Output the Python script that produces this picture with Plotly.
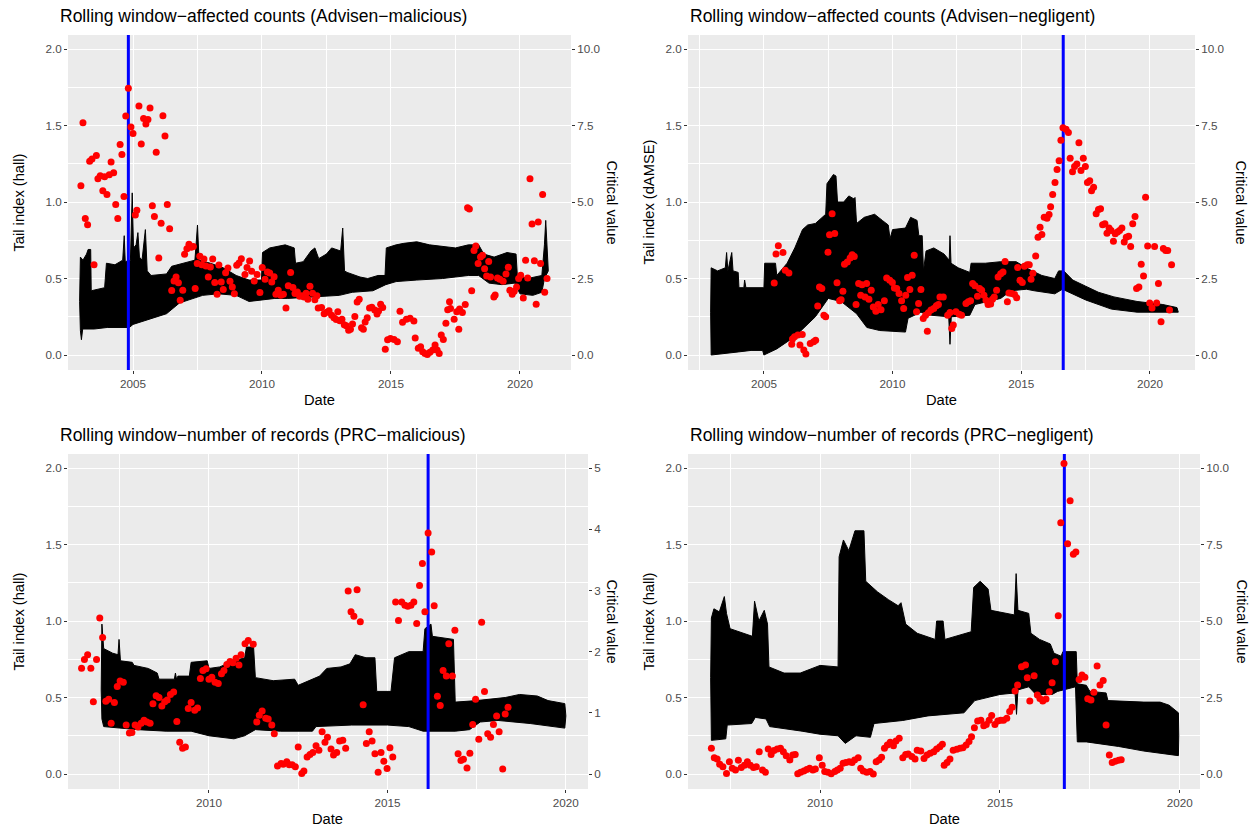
import plotly.graph_objects as go

W, H = 1257, 829
FONT = "Liberation Sans, Arial, Helvetica, sans-serif"

# ---------------------------------------------------------------------------
# Data: dates are decimal years; band = envelope (upper / lower) of the rolling
# tail-index estimate, points = critical values, break = detected change date
# ---------------------------------------------------------------------------

# Advisen - malicious (affected counts), Hill estimator
TL_UPPER = [(2002.93, 0.35), (2002.96, 0.64), (2003.06, 0.62), (2003.20, 0.66), (2003.26, 0.69),
            (2003.36, 0.69), (2003.38, 0.42), (2003.60, 0.43), (2003.90, 0.44), (2003.97, 0.60),
            (2004.30, 0.59), (2004.60, 0.62), (2004.66, 0.78), (2004.70, 0.61), (2004.90, 0.62),
            (2004.97, 1.06), (2005.02, 0.70), (2005.12, 0.72), (2005.19, 0.80), (2005.25, 0.64),
            (2005.35, 0.62), (2005.48, 0.82), (2005.55, 0.55), (2005.70, 0.52), (2006.30, 0.53),
            (2006.50, 0.58), (2007.00, 0.60), (2007.40, 0.62), (2007.50, 0.85), (2007.56, 0.62),
            (2008.00, 0.60), (2008.50, 0.57), (2009.00, 0.52), (2009.50, 0.49), (2009.98, 0.49),
            (2010.02, 0.67), (2010.30, 0.70), (2010.60, 0.71), (2010.90, 0.72), (2011.25, 0.70),
            (2011.30, 0.60), (2011.60, 0.61), (2011.90, 0.68), (2012.05, 0.70), (2012.20, 0.63),
            (2012.50, 0.66), (2012.70, 0.70), (2013.05, 0.68), (2013.13, 0.83), (2013.20, 0.55),
            (2013.30, 0.54), (2013.80, 0.51), (2014.10, 0.50), (2014.50, 0.52), (2014.77, 0.52),
            (2014.82, 0.70), (2015.20, 0.72), (2015.50, 0.73), (2016.00, 0.74), (2016.50, 0.72),
            (2017.00, 0.71), (2017.50, 0.70), (2018.00, 0.72), (2018.40, 0.72), (2018.60, 0.66),
            (2019.00, 0.64), (2019.50, 0.67), (2019.85, 0.66), (2019.90, 0.52), (2020.30, 0.50),
            (2020.85, 0.52), (2020.95, 0.72), (2021.00, 0.88), (2021.05, 0.70), (2021.10, 0.55)]
TL_LOWER = [(2002.93, 0.35), (2002.96, 0.16), (2003.00, 0.10), (2003.05, 0.17), (2003.50, 0.17),
            (2004.00, 0.18), (2004.86, 0.18), (2005.00, 0.20), (2005.60, 0.23), (2006.30, 0.27),
            (2006.80, 0.34), (2007.30, 0.37), (2007.70, 0.39), (2008.30, 0.40), (2009.00, 0.39),
            (2009.50, 0.35), (2010.00, 0.36), (2010.50, 0.37), (2011.00, 0.37), (2012.00, 0.38),
            (2013.00, 0.39), (2013.50, 0.41), (2014.30, 0.42), (2014.80, 0.46), (2015.20, 0.48),
            (2016.00, 0.49), (2017.00, 0.50), (2018.00, 0.52), (2018.40, 0.52), (2018.80, 0.47),
            (2019.30, 0.46), (2019.80, 0.47), (2020.00, 0.40), (2020.50, 0.39), (2020.85, 0.41),
            (2020.95, 0.50), (2021.10, 0.55)]
TL_POINTS = [(2002.98, 5.53), (2003.06, 7.59), (2003.15, 4.46), (2003.24, 4.26), (2003.32, 6.33),
             (2003.41, 6.41), (2003.49, 2.95), (2003.58, 6.52), (2003.64, 5.76), (2003.73, 5.86),
             (2003.83, 5.37), (2003.90, 5.83), (2003.99, 5.25), (2004.08, 5.89), (2004.15, 6.31),
             (2004.25, 5.96), (2004.33, 4.92), (2004.41, 4.46), (2004.50, 6.88), (2004.57, 6.55),
             (2004.65, 5.18), (2004.72, 7.81), (2004.82, 8.72), (2004.92, 7.45), (2005.00, 7.24),
             (2005.09, 4.58), (2005.15, 4.73), (2005.23, 8.14), (2005.32, 6.90), (2005.41, 7.73),
             (2005.50, 7.55), (2005.58, 7.70), (2005.66, 8.07), (2005.75, 4.88), (2005.83, 4.53),
             (2005.90, 6.63), (2006.00, 3.17), (2006.09, 4.31), (2006.16, 7.82), (2006.24, 7.16),
             (2006.33, 4.92), (2006.42, 4.13), (2006.50, 2.11), (2006.59, 2.42), (2006.67, 2.55),
             (2006.76, 2.36), (2006.83, 1.79), (2006.93, 2.12), (2007.00, 3.29), (2007.09, 3.47),
             (2007.17, 3.62), (2007.26, 3.52), (2007.34, 3.55), (2007.41, 2.17), (2007.49, 2.99),
             (2007.59, 3.23), (2007.67, 2.95), (2007.75, 3.14), (2007.83, 2.91), (2007.92, 2.55),
             (2008.00, 2.88), (2008.09, 3.14), (2008.17, 2.37), (2008.26, 1.99), (2008.33, 2.94),
             (2008.42, 2.39), (2008.50, 2.14), (2008.59, 2.69), (2008.68, 2.84), (2008.76, 2.41),
             (2008.85, 2.22), (2008.93, 2.00), (2009.02, 2.93), (2009.11, 3.01), (2009.20, 3.15),
             (2009.34, 2.63), (2009.42, 2.86), (2009.52, 3.07), (2009.60, 2.74), (2009.70, 2.42),
             (2009.81, 2.63), (2009.92, 2.04), (2010.01, 2.86), (2010.12, 2.48), (2010.21, 2.71),
             (2010.30, 2.68), (2010.38, 2.39), (2010.47, 2.56), (2010.54, 1.99), (2010.63, 2.12),
             (2010.73, 1.95), (2010.83, 1.99), (2010.93, 1.54), (2011.02, 2.26), (2011.11, 2.70),
             (2011.20, 2.21), (2011.28, 2.01), (2011.37, 2.06), (2011.46, 1.92), (2011.54, 1.94),
             (2011.63, 1.90), (2011.71, 2.02), (2011.78, 1.82), (2011.86, 2.25), (2011.96, 2.02),
             (2012.05, 1.81), (2012.13, 1.94), (2012.18, 1.54), (2012.31, 1.55), (2012.41, 1.35),
             (2012.51, 1.40), (2012.60, 1.45), (2012.70, 1.30), (2012.79, 1.22), (2012.88, 1.16),
             (2012.94, 1.41), (2013.02, 1.12), (2013.10, 1.17), (2013.19, 0.99), (2013.27, 0.96),
             (2013.36, 0.81), (2013.43, 0.84), (2013.51, 1.01), (2013.60, 1.26), (2013.69, 1.73),
             (2013.77, 1.82), (2013.86, 0.89), (2013.93, 0.84), (2014.00, 1.08), (2014.08, 1.22),
             (2014.17, 1.54), (2014.26, 1.56), (2014.37, 1.47), (2014.46, 1.34), (2014.52, 1.44),
             (2014.60, 1.66), (2014.68, 1.55), (2014.78, 0.19), (2014.87, 0.50), (2014.98, 0.54),
             (2015.12, 0.51), (2015.25, 0.43), (2015.35, 1.43), (2015.45, 1.07), (2015.60, 1.17),
             (2015.74, 1.20), (2015.89, 1.11), (2015.94, 0.56), (2016.06, 0.22), (2016.15, 0.27),
             (2016.23, 0.11), (2016.32, 0.05), (2016.41, 0.02), (2016.51, 0.09), (2016.62, 0.16),
             (2016.71, 0.33), (2016.79, 0.16), (2016.87, 0.05), (2016.95, 0.65), (2017.03, 0.51),
             (2017.13, 1.04), (2017.20, 1.48), (2017.27, 1.74), (2017.31, 1.52), (2017.45, 1.17),
             (2017.55, 1.41), (2017.63, 0.84), (2017.66, 1.50), (2017.77, 1.39), (2017.88, 1.65),
             (2017.97, 4.81), (2018.04, 4.77), (2018.13, 2.10), (2018.22, 3.42), (2018.29, 3.56),
             (2018.38, 2.99), (2018.47, 3.20), (2018.55, 3.26), (2018.63, 2.82), (2018.71, 2.58),
             (2018.79, 3.06), (2018.86, 2.55), (2018.99, 1.90), (2019.04, 1.96), (2019.13, 2.52),
             (2019.22, 2.48), (2019.35, 2.41), (2019.46, 2.65), (2019.55, 2.87), (2019.61, 2.12),
             (2019.70, 1.99), (2019.78, 2.08), (2019.87, 2.22), (2019.95, 2.50), (2020.03, 2.61),
             (2020.13, 1.86), (2020.22, 3.10), (2020.30, 2.52), (2020.39, 5.76), (2020.47, 4.28),
             (2020.56, 3.08), (2020.63, 1.66), (2020.71, 4.35), (2020.80, 2.99), (2020.88, 5.25),
             (2020.96, 2.05), (2021.05, 2.50)]
TL_BREAK = 2004.82

# Advisen - negligent (affected counts), dAMSE estimator
TR_UPPER = [(2002.93, 0.28), (2002.95, 0.57), (2003.20, 0.55), (2003.50, 0.57), (2003.55, 0.67),
            (2003.60, 0.55), (2003.75, 0.67), (2003.80, 0.55), (2004.00, 0.54), (2004.03, 0.44),
            (2004.22, 0.44), (2004.25, 0.49), (2004.30, 0.44), (2005.00, 0.44), (2005.03, 0.60),
            (2005.45, 0.60), (2005.50, 0.52), (2005.90, 0.60), (2006.20, 0.70), (2006.50, 0.82),
            (2006.70, 0.85), (2007.00, 0.86), (2007.40, 0.92), (2007.45, 1.12), (2007.70, 1.18),
            (2007.80, 1.17), (2007.86, 1.00), (2008.10, 1.00), (2008.30, 1.04), (2008.50, 1.02),
            (2008.54, 1.03), (2008.60, 0.86), (2008.90, 0.90), (2009.30, 0.92), (2009.60, 0.88),
            (2009.83, 0.85), (2009.90, 0.76), (2010.00, 0.82), (2010.50, 0.83), (2010.70, 0.90),
            (2010.95, 0.88), (2011.02, 0.78), (2011.15, 0.78), (2011.20, 0.55), (2011.30, 0.68),
            (2011.60, 0.70), (2012.00, 0.66), (2012.20, 0.62), (2012.23, 0.78), (2012.27, 0.60),
            (2012.55, 0.57), (2013.00, 0.54), (2013.05, 0.60), (2013.60, 0.60), (2014.20, 0.61),
            (2014.80, 0.61), (2015.30, 0.56), (2015.80, 0.52), (2016.30, 0.50), (2016.45, 0.55),
            (2016.65, 0.55), (2017.00, 0.49), (2017.50, 0.45), (2018.00, 0.41), (2018.60, 0.38),
            (2019.50, 0.35), (2020.50, 0.33), (2021.05, 0.31), (2021.10, 0.28)]
TR_LOWER = [(2002.93, 0.28), (2002.95, 0.00), (2003.50, 0.01), (2004.00, 0.02), (2004.50, 0.03),
            (2004.95, 0.03), (2005.00, 0.00), (2005.50, 0.04), (2006.20, 0.12), (2007.00, 0.25),
            (2007.50, 0.37), (2008.00, 0.35), (2008.60, 0.27), (2009.00, 0.18), (2009.50, 0.16),
            (2010.50, 0.15), (2010.60, 0.24), (2011.10, 0.28), (2011.50, 0.26), (2012.18, 0.25),
            (2012.23, 0.07), (2012.28, 0.25), (2013.00, 0.26), (2013.20, 0.33), (2014.20, 0.37),
            (2014.60, 0.42), (2015.20, 0.43), (2015.50, 0.42), (2016.30, 0.40), (2016.60, 0.43),
            (2017.50, 0.36), (2018.50, 0.30), (2019.50, 0.28), (2021.10, 0.28)]
TR_POINTS = [(2005.40, 2.35), (2005.47, 3.30), (2005.56, 3.57), (2005.74, 3.35), (2005.83, 2.77),
             (2005.97, 2.68), (2006.08, 0.35), (2006.11, 0.52), (2006.19, 0.60), (2006.32, 0.65),
             (2006.40, 0.33), (2006.49, 0.67), (2006.55, 0.16), (2006.63, 0.03), (2006.80, 0.38),
             (2006.93, 0.43), (2007.01, 0.48), (2007.09, 1.60), (2007.16, 2.22), (2007.25, 2.17),
             (2007.33, 1.30), (2007.40, 1.25), (2007.49, 3.36), (2007.55, 3.93), (2007.65, 4.62),
             (2007.75, 3.97), (2007.84, 2.36), (2007.94, 1.77), (2008.00, 1.81), (2008.07, 2.08),
             (2008.13, 2.97), (2008.24, 3.04), (2008.35, 3.17), (2008.43, 3.28), (2008.51, 3.22),
             (2008.58, 1.65), (2008.68, 2.34), (2008.76, 1.95), (2008.81, 2.30), (2008.93, 1.90),
             (2008.99, 2.34), (2009.08, 1.82), (2009.17, 2.12), (2009.25, 1.57), (2009.35, 1.43),
             (2009.44, 1.65), (2009.55, 1.48), (2009.68, 1.77), (2009.77, 2.52), (2009.89, 2.44),
             (2009.99, 2.37), (2010.07, 2.19), (2010.16, 2.17), (2010.25, 2.01), (2010.35, 1.77),
             (2010.43, 1.52), (2010.51, 1.95), (2010.58, 2.53), (2010.67, 2.14), (2010.76, 2.61),
             (2010.84, 3.26), (2010.93, 1.41), (2011.01, 1.68), (2011.10, 2.14), (2011.19, 1.19),
             (2011.28, 1.30), (2011.35, 0.78), (2011.39, 1.38), (2011.49, 1.47), (2011.60, 1.52),
             (2011.70, 1.61), (2011.78, 1.65), (2011.84, 1.90), (2011.97, 1.90), (2012.14, 1.30),
             (2012.23, 1.39), (2012.30, 0.87), (2012.36, 0.98), (2012.46, 1.41), (2012.59, 1.33),
             (2012.68, 1.30), (2012.85, 1.68), (2012.94, 1.74), (2013.03, 1.77), (2013.11, 2.34),
             (2013.20, 2.26), (2013.30, 1.92), (2013.38, 2.17), (2013.46, 2.12), (2013.55, 1.95),
             (2013.63, 1.79), (2013.71, 1.65), (2013.81, 1.67), (2013.88, 1.82), (2013.95, 1.90),
             (2014.04, 2.12), (2014.10, 2.55), (2014.20, 2.66), (2014.29, 2.71), (2014.37, 3.06),
             (2014.46, 1.74), (2014.52, 2.03), (2014.63, 2.01), (2014.74, 1.98), (2014.82, 1.87),
             (2014.86, 2.86), (2014.95, 2.44), (2015.04, 2.37), (2015.12, 2.90), (2015.23, 2.95),
             (2015.31, 2.95), (2015.38, 2.48), (2015.45, 2.67), (2015.56, 3.24), (2015.65, 3.85),
             (2015.73, 4.18), (2015.80, 3.94), (2015.89, 4.50), (2016.00, 4.47), (2016.08, 4.59),
             (2016.14, 4.85), (2016.22, 5.25), (2016.31, 5.64), (2016.39, 6.06), (2016.47, 6.35),
             (2016.54, 7.02), (2016.62, 7.43), (2016.74, 7.38), (2016.83, 7.27), (2016.90, 6.43),
             (2016.99, 5.99), (2017.07, 6.16), (2017.16, 6.24), (2017.24, 6.94), (2017.32, 6.03),
             (2017.41, 6.43), (2017.49, 6.16), (2017.57, 5.64), (2017.66, 5.70), (2017.73, 5.37),
             (2017.81, 5.48), (2017.91, 4.62), (2018.00, 4.76), (2018.08, 4.78), (2018.16, 4.26),
             (2018.25, 4.29), (2018.33, 3.98), (2018.41, 4.15), (2018.49, 4.07), (2018.58, 3.72),
             (2018.65, 3.96), (2018.74, 4.02), (2018.82, 4.07), (2018.91, 4.15), (2019.00, 3.69),
             (2019.08, 3.85), (2019.17, 3.88), (2019.25, 3.55), (2019.33, 4.29), (2019.42, 4.53),
             (2019.48, 2.17), (2019.57, 2.22), (2019.66, 2.97), (2019.75, 2.58), (2019.83, 5.16),
             (2019.91, 3.56), (2019.99, 1.70), (2020.08, 1.54), (2020.18, 3.55), (2020.26, 1.70),
             (2020.33, 2.34), (2020.43, 1.09), (2020.52, 3.48), (2020.61, 3.42), (2020.69, 3.42),
             (2020.76, 1.47), (2020.84, 2.95)]
TR_BREAK = 2016.63

# PRC - malicious (number of records), Hill estimator
BL_UPPER = [(2006.98, 0.55), (2007.00, 0.98), (2007.05, 0.82), (2007.30, 0.79), (2007.45, 0.78),
            (2007.48, 0.88), (2007.52, 0.74), (2007.85, 0.73), (2007.90, 0.71), (2008.30, 0.69),
            (2008.55, 0.66), (2008.60, 0.62), (2009.03, 0.62), (2009.06, 0.66), (2009.09, 0.62),
            (2009.13, 0.64), (2009.45, 0.64), (2009.50, 0.73), (2009.95, 0.74), (2010.00, 0.69),
            (2010.30, 0.70), (2010.70, 0.74), (2011.00, 0.76), (2011.05, 0.83), (2011.25, 0.83),
            (2011.30, 0.63), (2011.80, 0.61), (2012.40, 0.62), (2012.50, 0.58), (2012.90, 0.62),
            (2013.10, 0.64), (2013.30, 0.69), (2013.70, 0.70), (2013.95, 0.72), (2014.10, 0.78),
            (2014.40, 0.76), (2014.65, 0.76), (2014.70, 0.54), (2015.10, 0.54), (2015.20, 0.76),
            (2015.60, 0.80), (2016.00, 0.80), (2016.05, 0.95), (2016.22, 0.98), (2016.26, 0.90),
            (2016.85, 0.88), (2016.90, 0.47), (2017.50, 0.48), (2018.30, 0.50), (2018.70, 0.52),
            (2019.20, 0.51), (2019.50, 0.48), (2019.97, 0.46), (2020.00, 0.38)]
BL_LOWER = [(2006.98, 0.55), (2007.00, 0.36), (2007.05, 0.31), (2007.50, 0.30), (2008.00, 0.29),
            (2008.80, 0.28), (2009.50, 0.28), (2010.00, 0.25), (2010.70, 0.23), (2011.00, 0.25),
            (2011.30, 0.29), (2012.00, 0.28), (2012.90, 0.28), (2013.00, 0.31), (2014.00, 0.32),
            (2015.00, 0.32), (2015.60, 0.31), (2016.00, 0.28), (2016.90, 0.28), (2017.30, 0.29),
            (2017.60, 0.34), (2018.10, 0.35), (2019.00, 0.33), (2019.97, 0.30), (2020.00, 0.38)]
BL_POINTS = [(2006.43, 1.73), (2006.51, 1.87), (2006.60, 1.95), (2006.69, 1.73), (2006.76, 1.18),
             (2006.85, 1.87), (2006.94, 2.55), (2007.02, 2.23), (2007.11, 1.19), (2007.19, 1.22),
             (2007.26, 0.83), (2007.35, 1.17), (2007.43, 1.43), (2007.51, 1.52), (2007.60, 1.50),
             (2007.68, 0.80), (2007.77, 0.67), (2007.84, 0.68), (2007.93, 0.80), (2008.01, 0.77),
             (2008.10, 0.83), (2008.18, 0.88), (2008.26, 0.85), (2008.35, 0.83), (2008.43, 1.15),
             (2008.52, 1.28), (2008.60, 1.25), (2008.68, 1.11), (2008.76, 1.18), (2008.83, 1.21),
             (2008.92, 1.30), (2009.01, 1.34), (2009.10, 0.86), (2009.18, 0.52), (2009.26, 0.42),
             (2009.34, 0.44), (2009.42, 1.07), (2009.50, 1.17), (2009.60, 1.04), (2009.68, 1.08),
             (2009.76, 1.56), (2009.83, 1.69), (2009.92, 1.72), (2010.00, 1.55), (2010.08, 1.58),
             (2010.17, 1.50), (2010.26, 1.48), (2010.35, 1.64), (2010.42, 1.69), (2010.50, 1.79),
             (2010.59, 1.84), (2010.67, 1.82), (2010.76, 1.89), (2010.84, 1.78), (2010.90, 1.95),
             (2011.01, 2.13), (2011.10, 2.18), (2011.24, 2.12), (2011.34, 0.85), (2011.41, 0.96),
             (2011.49, 1.03), (2011.59, 0.91), (2011.66, 0.90), (2011.76, 0.80), (2011.83, 0.66),
             (2011.92, 0.13), (2012.02, 0.17), (2012.08, 0.16), (2012.18, 0.20), (2012.25, 0.15),
             (2012.33, 0.15), (2012.42, 0.12), (2012.50, 0.44), (2012.60, 0.01), (2012.66, 0.05),
             (2012.75, 0.28), (2012.83, 0.32), (2012.91, 0.35), (2013.00, 0.46), (2013.08, 0.39),
             (2013.17, 0.69), (2013.25, 0.52), (2013.32, 0.60), (2013.42, 0.41), (2013.49, 0.31),
             (2013.58, 0.35), (2013.66, 0.54), (2013.75, 0.55), (2013.83, 0.42), (2013.90, 2.99),
             (2013.98, 2.65), (2014.06, 2.58), (2014.15, 3.01), (2014.24, 2.49), (2014.32, 1.13),
             (2014.41, 0.50), (2014.49, 0.69), (2014.57, 0.54), (2014.65, 0.33), (2014.74, 0.03),
             (2014.82, 0.35), (2014.90, 0.21), (2014.99, 0.09), (2015.07, 0.43), (2015.15, 0.28),
             (2015.23, 2.81), (2015.31, 2.51), (2015.40, 2.81), (2015.49, 2.76), (2015.57, 2.74),
             (2015.66, 2.76), (2015.74, 2.81), (2015.82, 2.46), (2015.90, 3.08), (2015.98, 3.44),
             (2016.05, 2.65), (2016.14, 3.94), (2016.24, 3.63), (2016.31, 2.75), (2016.40, 1.27),
             (2016.48, 1.12), (2016.56, 1.69), (2016.65, 1.60), (2016.72, 2.13), (2016.82, 1.60),
             (2016.89, 2.35), (2016.98, 0.33), (2017.06, 0.22), (2017.13, 0.24), (2017.23, 0.10),
             (2017.31, 0.34), (2017.39, 0.81), (2017.47, 1.22), (2017.56, 0.57), (2017.64, 2.48),
             (2017.72, 1.35), (2017.81, 0.66), (2017.89, 0.60), (2017.97, 0.81), (2018.06, 0.95),
             (2018.13, 0.69), (2018.23, 0.08), (2018.30, 0.98), (2018.38, 1.09)]
BL_BREAK = 2016.14

# PRC - negligent (number of records), Hill estimator
BR_UPPER = [(2006.96, 0.63), (2006.98, 1.02), (2007.05, 1.08), (2007.20, 1.06), (2007.34, 1.16),
            (2007.40, 1.05), (2007.50, 0.95), (2008.00, 0.91), (2008.12, 0.90), (2008.18, 1.13),
            (2008.30, 1.00), (2008.45, 1.07), (2008.54, 0.98), (2008.58, 0.70), (2009.00, 0.66),
            (2009.45, 0.66), (2010.00, 0.71), (2010.50, 0.70), (2010.53, 1.42), (2010.65, 1.53),
            (2010.80, 1.46), (2010.97, 1.59), (2011.22, 1.59), (2011.27, 1.26), (2011.60, 1.19),
            (2011.90, 1.14), (2012.17, 1.10), (2012.25, 1.12), (2012.38, 0.98), (2012.70, 0.92),
            (2013.20, 0.88), (2013.24, 1.00), (2013.42, 1.00), (2013.47, 0.88), (2014.20, 0.93),
            (2014.27, 1.22), (2014.45, 1.26), (2014.67, 1.21), (2014.75, 1.07), (2015.40, 1.04),
            (2015.45, 1.31), (2015.50, 1.07), (2015.80, 1.05), (2015.86, 0.92), (2016.10, 0.88),
            (2016.40, 0.85), (2016.50, 0.79), (2016.70, 0.77), (2016.75, 0.80), (2017.12, 0.80),
            (2017.15, 0.59), (2017.40, 0.58), (2017.50, 0.54), (2017.95, 0.53), (2018.00, 0.48),
            (2019.00, 0.47), (2019.45, 0.47), (2019.70, 0.45), (2019.96, 0.40), (2019.97, 0.25)]
BR_LOWER = [(2006.96, 0.63), (2006.98, 0.22), (2007.38, 0.23), (2007.42, 0.32), (2008.10, 0.33),
            (2008.20, 0.37), (2008.50, 0.36), (2008.60, 0.31), (2009.50, 0.28), (2010.00, 0.26),
            (2010.50, 0.25), (2010.70, 0.20), (2011.00, 0.25), (2011.40, 0.24), (2011.50, 0.33),
            (2012.30, 0.35), (2013.00, 0.38), (2014.00, 0.40), (2014.30, 0.48), (2015.00, 0.52),
            (2015.42, 0.53), (2015.46, 0.39), (2015.50, 0.55), (2015.80, 0.57), (2016.00, 0.52),
            (2016.45, 0.52), (2016.60, 0.54), (2017.10, 0.57), (2017.15, 0.21), (2017.40, 0.21),
            (2018.30, 0.18), (2019.00, 0.15), (2019.96, 0.12), (2019.97, 0.25)]
BR_POINTS = [(2006.98, 0.84), (2007.06, 0.53), (2007.14, 0.49), (2007.21, 0.32), (2007.30, 0.24),
             (2007.40, 0.02), (2007.48, 0.40), (2007.56, 0.19), (2007.65, 0.13), (2007.73, 0.45),
             (2007.81, 0.21), (2007.90, 0.29), (2007.98, 0.40), (2008.06, 0.29), (2008.15, 0.21),
             (2008.23, 0.24), (2008.31, 0.73), (2008.40, 0.13), (2008.48, 0.06), (2008.56, 0.82),
             (2008.64, 0.64), (2008.72, 0.77), (2008.81, 0.82), (2008.90, 0.84), (2008.98, 0.73),
             (2009.06, 0.60), (2009.16, 0.46), (2009.24, 0.62), (2009.31, 0.64), (2009.38, 0.01),
             (2009.46, 0.06), (2009.55, 0.10), (2009.63, 0.15), (2009.71, 0.19), (2009.80, 0.13),
             (2009.87, 0.16), (2009.98, 0.53), (2010.06, 0.29), (2010.13, 0.08), (2010.22, 0.06),
             (2010.31, 0.01), (2010.41, 0.08), (2010.48, 0.13), (2010.56, 0.19), (2010.64, 0.35),
             (2010.72, 0.38), (2010.81, 0.40), (2010.89, 0.38), (2010.96, 0.46), (2011.06, 0.53),
             (2011.13, 0.19), (2011.20, 0.10), (2011.30, 0.06), (2011.39, 0.08), (2011.48, 0.00),
             (2011.56, 0.40), (2011.64, 0.46), (2011.71, 0.55), (2011.79, 0.84), (2011.87, 0.95),
             (2011.95, 1.04), (2012.04, 0.92), (2012.11, 1.08), (2012.20, 1.17), (2012.30, 0.53),
             (2012.38, 0.64), (2012.45, 0.65), (2012.55, 0.57), (2012.64, 0.49), (2012.70, 0.78),
             (2012.80, 0.75), (2012.89, 0.51), (2012.97, 0.62), (2013.06, 0.68), (2013.16, 0.73),
             (2013.24, 0.82), (2013.33, 0.89), (2013.40, 0.97), (2013.45, 0.29), (2013.53, 0.38),
             (2013.61, 0.49), (2013.70, 0.78), (2013.80, 0.81), (2013.89, 0.84), (2013.97, 0.86),
             (2014.06, 0.95), (2014.14, 1.06), (2014.21, 1.22), (2014.29, 1.51), (2014.38, 1.73),
             (2014.47, 1.76), (2014.55, 1.58), (2014.62, 1.62), (2014.70, 1.76), (2014.77, 1.91),
             (2014.86, 1.62), (2014.94, 1.73), (2015.02, 1.76), (2015.10, 1.76), (2015.19, 1.82),
             (2015.27, 2.04), (2015.34, 2.18), (2015.42, 2.71), (2015.49, 2.91), (2015.60, 3.51),
             (2015.71, 3.56), (2015.76, 3.15), (2015.83, 2.39), (2015.95, 3.21), (2016.04, 2.58),
             (2016.11, 2.47), (2016.19, 2.39), (2016.28, 2.45), (2016.37, 2.69), (2016.45, 2.98),
             (2016.54, 3.67), (2016.62, 5.17), (2016.69, 8.21), (2016.78, 10.15), (2016.88, 7.53),
             (2016.95, 8.93), (2017.04, 7.18), (2017.11, 7.26), (2017.20, 3.09), (2017.28, 3.24),
             (2017.36, 3.16), (2017.44, 2.46), (2017.53, 2.42), (2017.61, 2.67), (2017.70, 3.53),
             (2017.78, 2.91), (2017.87, 3.06), (2017.95, 1.60), (2018.04, 0.62), (2018.12, 0.38),
             (2018.21, 0.42), (2018.30, 0.45), (2018.37, 0.47)]
BR_BREAK = 2016.79

TITLES = ["Rolling window\u2212affected counts (Advisen\u2212malicious)",
          "Rolling window\u2212affected counts (Advisen\u2212negligent)",
          "Rolling window\u2212number of records (PRC\u2212malicious)",
          "Rolling window\u2212number of records (PRC\u2212negligent)"]
LEFT_LABELS = ["Tail index (hall)", "Tail index (dAMSE)", "Tail index (hall)", "Tail index (hall)"]
RIGHT_LABEL = "Critical value"
X_LABEL = "Date"

Y_TICKS = [0, 0.5, 1.0, 1.5, 2.0]
Y_TICK_TEXT = ["0.0", "0.5", "1.0", "1.5", "2.0"]
CRIT_TICKS_10 = [0, 2.5, 5, 7.5, 10]
CRIT_TEXT_10 = ["0.0", "2.5", "5.0", "7.5", "10.0"]
CRIT_TICKS_5 = [0, 1, 2, 3, 4, 5]
CRIT_TEXT_5 = ["0", "1", "2", "3", "4", "5"]

# ---------------------------------------------------------------------------
# Panel geometry (pixels in the 1257 x 829 page)
# ---------------------------------------------------------------------------
Y_RANGE = [-0.098, 2.092]
panels = [
    dict(upper=TL_UPPER, lower=TL_LOWER, points=TL_POINTS, brk=TL_BREAK,
         px=(68, 571), py=(35, 370), xr=(2002.48, 2021.98), scale=5.0,
         xt=[2005, 2010, 2015, 2020], xm=[2002.5, 2007.5, 2012.5, 2017.5],
         ct=CRIT_TICKS_10, ctt=CRIT_TEXT_10, title_x=58, ylab_x=18, crit_x=612),
    dict(upper=TR_UPPER, lower=TR_LOWER, points=TR_POINTS, brk=TR_BREAK,
         px=(688, 1195), py=(35, 370), xr=(2002.05, 2021.75), scale=5.0,
         xt=[2005, 2010, 2015, 2020], xm=[2002.5, 2007.5, 2012.5, 2017.5],
         ct=CRIT_TICKS_10, ctt=CRIT_TEXT_10, title_x=688, ylab_x=648, crit_x=1241),
    dict(upper=BL_UPPER, lower=BL_LOWER, points=BL_POINTS, brk=BL_BREAK,
         px=(68, 588), py=(454, 789), xr=(2006.05, 2020.62), scale=2.5,
         xt=[2010, 2015, 2020], xm=[2007.5, 2012.5, 2017.5],
         ct=CRIT_TICKS_5, ctt=CRIT_TEXT_5, title_x=58, ylab_x=18, crit_x=612),
    dict(upper=BR_UPPER, lower=BR_LOWER, points=BR_POINTS, brk=BR_BREAK,
         px=(688, 1200), py=(454, 789), xr=(2006.33, 2020.56), scale=5.0,
         xt=[2010, 2015, 2020], xm=[2007.5, 2012.5, 2017.5],
         ct=CRIT_TICKS_10, ctt=CRIT_TEXT_10, title_x=688, ylab_x=648, crit_x=1242),
]

TICK_FONT = dict(family=FONT, size=11.7, color="#4D4D4D")
GRID_MAJOR = 1.2
GRID_MINOR = 0.6

fig = go.Figure()
layout = dict(width=W, height=H, margin=dict(l=0, r=0, t=0, b=0),
              paper_bgcolor="white", plot_bgcolor="#EBEBEB", showlegend=False,
              font=dict(family=FONT, color="black"))
annotations = []


def ax_name(prefix, n):
    return prefix if n == 1 else f"{prefix}{n}"


for i, p in enumerate(panels):
    xn, yl, yr = i + 1, 2 * i + 1, 2 * i + 2
    xref, ylref, yrref = ax_name("x", xn), ax_name("y", yl), ax_name("y", yr)

    # rolling estimate: envelope polygon (upper edge, then lower edge reversed)
    ux = [d for d, _ in p["upper"]]
    uy = [v for _, v in p["upper"]]
    lx = [d for d, _ in p["lower"]]
    ly = [v for _, v in p["lower"]]
    fig.add_trace(go.Scatter(x=ux + lx[::-1], y=uy + ly[::-1], mode="lines",
                             fill="toself", fillcolor="black",
                             line=dict(color="black", width=1),
                             xaxis=xref, yaxis=ylref, hoverinfo="skip"))
    # detected break date
    fig.add_trace(go.Scatter(x=[p["brk"], p["brk"]], y=Y_RANGE, mode="lines",
                             line=dict(color="#0000FF", width=3),
                             xaxis=xref, yaxis=ylref, hoverinfo="skip"))
    # critical values on the secondary axis
    fig.add_trace(go.Scatter(x=[d for d, _ in p["points"]], y=[c for _, c in p["points"]],
                             mode="markers", marker=dict(color="#FF0000", size=7, line=dict(width=0)),
                             xaxis=xref, yaxis=yrref))

    x0, x1 = p["px"]
    y0, y1 = p["py"]
    layout[ax_name("xaxis", xn)] = dict(
        domain=[x0 / W, x1 / W], anchor=ylref, range=list(p["xr"]),
        tickmode="array", tickvals=p["xt"], ticktext=[str(t) for t in p["xt"]],
        ticks="outside", ticklen=3, tickwidth=1, tickcolor="#333333", tickfont=TICK_FONT,
        showgrid=True, gridcolor="white", gridwidth=GRID_MAJOR, zeroline=False, showline=False,
        minor=dict(tickmode="array", tickvals=p["xm"], showgrid=True, gridcolor="white",
                   gridwidth=GRID_MINOR, ticks=""))
    layout[ax_name("yaxis", yl)] = dict(
        domain=[1 - y1 / H, 1 - y0 / H], anchor=xref, range=Y_RANGE,
        tickmode="array", tickvals=Y_TICKS, ticktext=Y_TICK_TEXT,
        ticks="outside", ticklen=3, tickwidth=1, tickcolor="#333333", tickfont=TICK_FONT,
        showgrid=True, gridcolor="white", gridwidth=GRID_MAJOR, zeroline=False, showline=False,
        minor=dict(tickmode="array", tickvals=[0.25, 0.75, 1.25, 1.75], showgrid=True,
                   gridcolor="white", gridwidth=GRID_MINOR, ticks=""))
    layout[ax_name("yaxis", yr)] = dict(
        overlaying=ylref, side="right", anchor=xref,
        range=[Y_RANGE[0] * p["scale"], Y_RANGE[1] * p["scale"]],
        tickmode="array", tickvals=p["ct"], ticktext=p["ctt"],
        ticks="outside", ticklen=3, tickwidth=1, tickcolor="#333333", tickfont=TICK_FONT,
        showgrid=False, zeroline=False, showline=False)

    yc = (y0 + y1) / 2
    annotations += [
        dict(text=TITLES[i], x=p["title_x"] / W, y=1 - (y0 - 19) / H, xref="paper", yref="paper",
             xanchor="left", yanchor="middle", showarrow=False,
             font=dict(family=FONT, size=17.5, color="black")),
        dict(text=LEFT_LABELS[i], x=p["ylab_x"] / W, y=1 - yc / H, xref="paper", yref="paper",
             xanchor="center", yanchor="middle", textangle=-90, showarrow=False,
             font=dict(family=FONT, size=14.7, color="black")),
        dict(text=RIGHT_LABEL, x=p["crit_x"] / W, y=1 - yc / H, xref="paper", yref="paper",
             xanchor="center", yanchor="middle", textangle=90, showarrow=False,
             font=dict(family=FONT, size=14.7, color="black")),
        dict(text=X_LABEL, x=(x0 + x1) / 2 / W, y=1 - (y1 + 30) / H, xref="paper", yref="paper",
             xanchor="center", yanchor="middle", showarrow=False,
             font=dict(family=FONT, size=14.7, color="black")),
    ]

layout["annotations"] = annotations
fig.update_layout(**layout)
fig.write_html("out.html")
